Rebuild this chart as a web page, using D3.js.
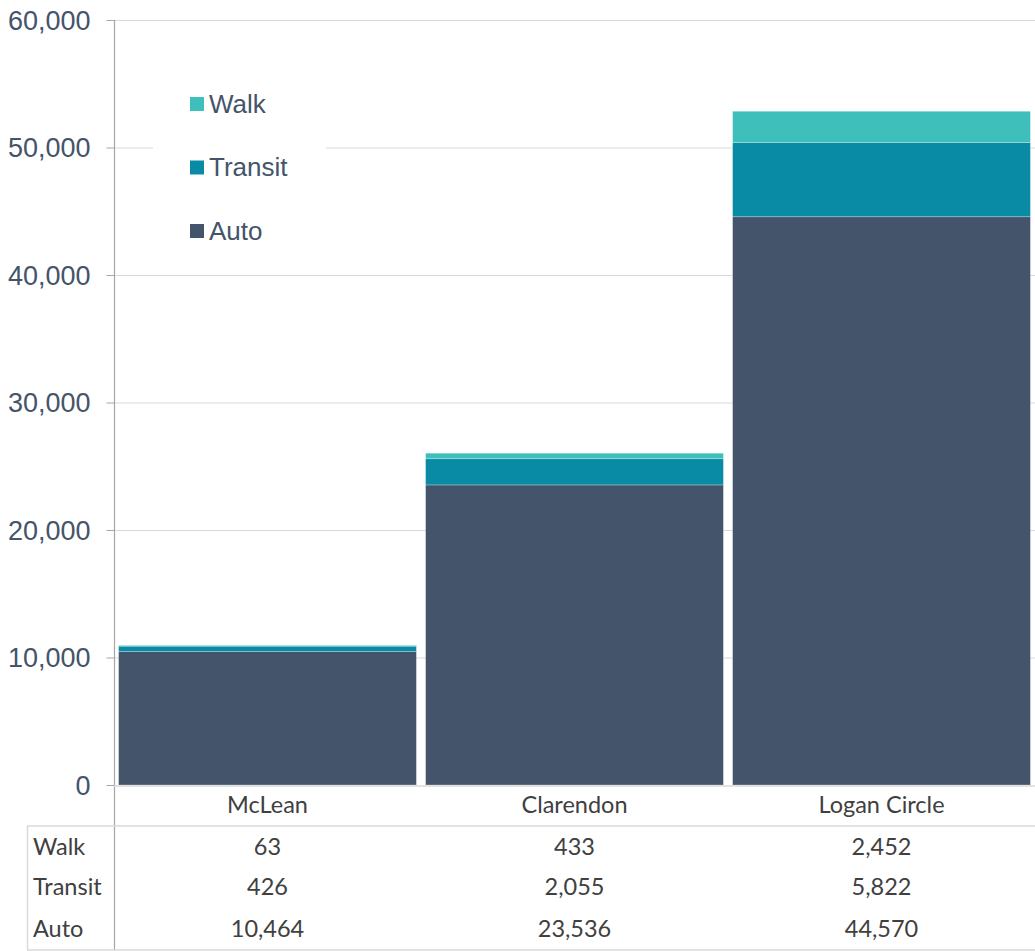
<!DOCTYPE html>
<html>
<head>
<meta charset="utf-8">
<script src="https://cdn.jsdelivr.net/npm/d3@7"></script>
<style>
  html, body { margin: 0; padding: 0; background: #fff; }
  svg { display: block; }
</style>
</head>
<body>
<svg id="chart" width="1035" height="951"></svg>
<script>
// Commute mode counts by neighbourhood
const categories = ["McLean", "Clarendon", "Logan Circle"];
const modes = ["Auto", "Transit", "Walk"];          // stacking order, bottom to top
const autoValues = [10464, 23536, 44570];
const transitValues = [426, 2055, 5822];
const walkValues = [63, 433, 2452];
const yTicks = [0, 10000, 20000, 30000, 40000, 50000, 60000];
const tableRows = ["Walk", "Transit", "Auto"];      // order of the data table rows

const colors = { Auto: "#44546A", Transit: "#0A8BA5", Walk: "#3FBFBB" };
const valuesByMode = { Auto: autoValues, Transit: transitValues, Walk: walkValues };

const rows = categories.map((c, i) => ({
  category: c,
  Auto: autoValues[i],
  Transit: transitValues[i],
  Walk: walkValues[i]
}));

const svg = d3.select("#chart");
const plotLeft = 114, plotRight = 1035, plotTop = 20, plotBottom = 785;

const x = d3.scaleBand().domain(categories).range([plotLeft, plotRight])
  .paddingInner(0.03).paddingOuter(0.015);
const y = d3.scaleLinear().domain([0, 60000]).range([plotBottom, plotTop]);

const axisColor = "#44546A";
const lineGray = "#D9D9D9";
const axisGray = "#A6A6A6";

// horizontal gridlines
svg.append("g").selectAll("line").data(yTicks.filter(t => t > 0)).join("line")
  .attr("x1", plotLeft).attr("x2", plotRight)
  .attr("y1", d => y(d) + 0.5).attr("y2", d => y(d) + 0.5)
  .attr("stroke", lineGray).attr("stroke-width", 1);

// stacked bars
const stack = d3.stack().keys(modes)(rows);
svg.append("g").selectAll("g").data(stack).join("g")
  .attr("fill", d => colors[d.key])
  .selectAll("rect").data(d => d).join("rect")
  .attr("x", d => x(d.data.category))
  .attr("width", x.bandwidth())
  .attr("y", d => y(d[1]))
  .attr("height", d => y(d[0]) - y(d[1]))
  .attr("stroke", "rgba(255,255,255,0.35)")
  .attr("stroke-width", 0.75);

// legend (white box sits over the gridline)
const legend = svg.append("g");
legend.append("rect").attr("x", 153).attr("y", 78).attr("width", 173).attr("height", 180)
  .attr("fill", "#fff");
const legendItems = ["Walk", "Transit", "Auto"];
legendItems.forEach((k, i) => {
  const cy = 104 + i * 63.5;
  legend.append("rect").attr("x", 190).attr("y", cy - 7).attr("width", 14).attr("height", 14)
    .attr("fill", colors[k]);
  legend.append("text").attr("x", 209).attr("y", cy + 8.5)
    .attr("font-family", "'Liberation Sans', Arial, sans-serif").attr("font-size", 26)
    .attr("fill", axisColor).text(k);
});

// y axis
const yAxis = d3.axisLeft(y).tickValues(yTicks).tickSize(8).tickPadding(16)
  .tickFormat(d3.format(","));
const gy = svg.append("g").attr("transform", `translate(${plotLeft + 0.5},0)`).call(yAxis);
gy.select(".domain").remove();
gy.selectAll(".tick line").attr("stroke", axisGray);
gy.selectAll(".tick text")
  .attr("font-family", "'Liberation Sans', Arial, sans-serif").attr("font-size", 27)
  .attr("fill", axisColor).attr("dy", "0.35em");

// vertical axis line runs down through the data table
svg.append("line").attr("x1", plotLeft + 0.5).attr("x2", plotLeft + 0.5)
  .attr("y1", plotTop).attr("y2", 950).attr("stroke", axisGray).attr("stroke-width", 1.2);

// category axis baseline
svg.append("line").attr("x1", plotLeft).attr("x2", plotRight)
  .attr("y1", plotBottom + 1).attr("y2", plotBottom + 1).attr("stroke", lineGray).attr("stroke-width", 1.5);

// data table frame
const tableTop = 826, tableBottom = 950, tableLeft = 27;
[tableTop, tableBottom].forEach(yy => {
  svg.append("line").attr("x1", tableLeft).attr("x2", plotRight)
    .attr("y1", yy).attr("y2", yy).attr("stroke", lineGray).attr("stroke-width", 1.5);
});
svg.append("line").attr("x1", tableLeft + 0.5).attr("x2", tableLeft + 0.5)
  .attr("y1", tableTop).attr("y2", tableBottom).attr("stroke", lineGray).attr("stroke-width", 1.5);

const tableFont = "Lato, 'Open Sans', sans-serif";
const tableColor = "#404040";

// category labels
svg.append("g").selectAll("text").data(categories).join("text")
  .attr("x", d => x(d) + x.bandwidth() / 2).attr("y", 813)
  .attr("text-anchor", "middle")
  .attr("font-family", tableFont).attr("font-size", 23.5).attr("fill", tableColor)
  .text(d => d);

// table rows
const rowBase = { Walk: 855, Transit: 895, Auto: 937 };
tableRows.forEach(k => {
  svg.append("text").attr("x", 33).attr("y", rowBase[k])
    .attr("font-family", tableFont).attr("font-size", 23.5).attr("fill", tableColor)
    .text(k);
  svg.append("g").selectAll("text").data(valuesByMode[k]).join("text")
    .attr("x", (d, i) => x(categories[i]) + x.bandwidth() / 2).attr("y", rowBase[k])
    .attr("text-anchor", "middle")
    .attr("font-family", tableFont).attr("font-size", 23.5).attr("fill", tableColor)
    .text(d => d3.format(",")(d));
});
</script>
</body>
</html>
